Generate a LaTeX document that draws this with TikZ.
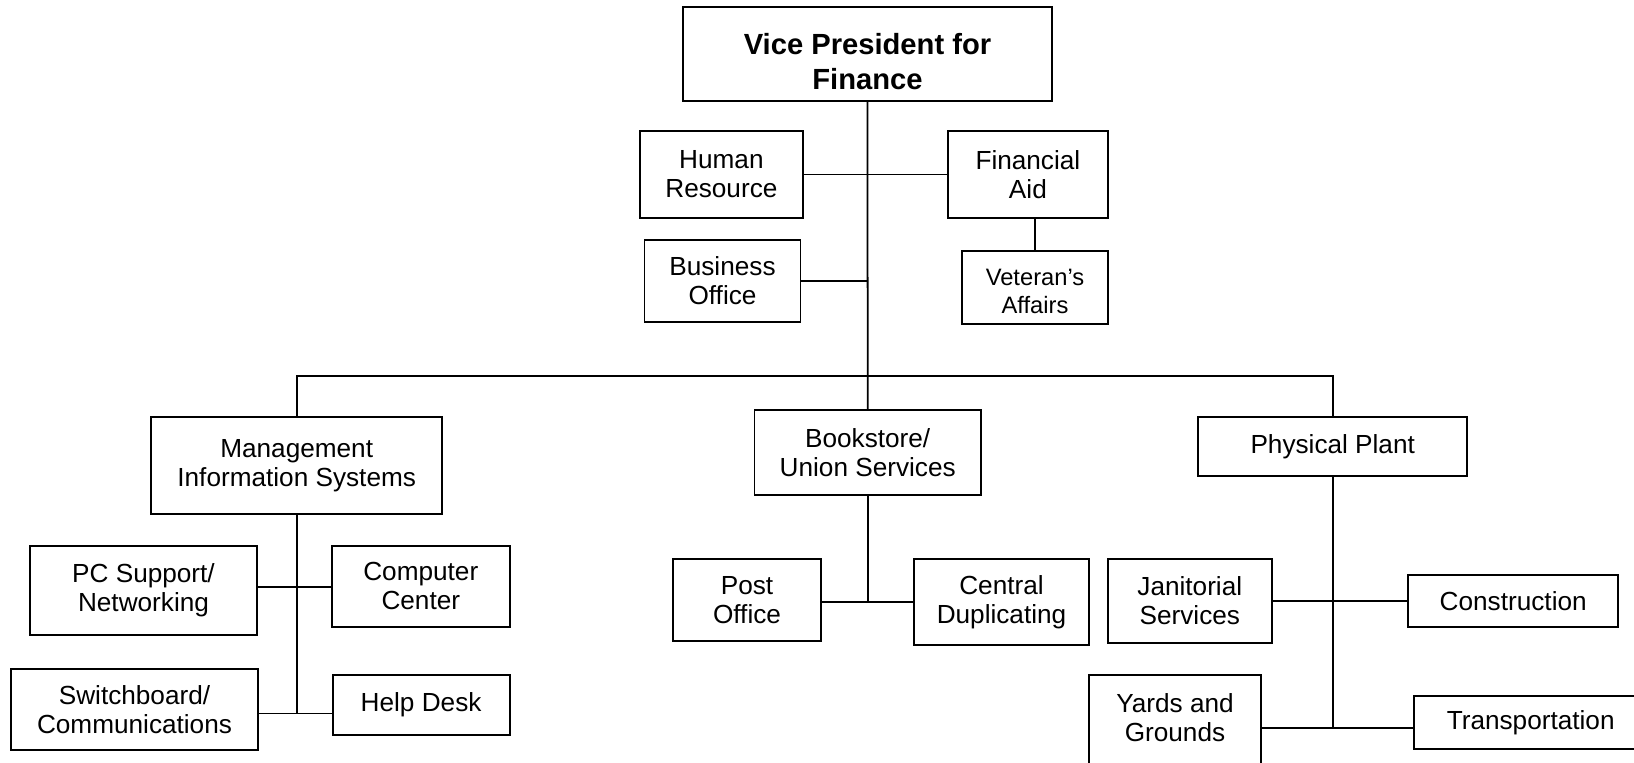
\documentclass[tikz,border=0pt]{standalone}
\usepackage{fontspec}
\setmainfont{Liberation Sans}
\usepackage{tikz}

\begin{document}
\begin{tikzpicture}[x=0.02cm, y=-0.02cm,
    unit/.style={draw, line width=1.1pt, align=center, inner sep=0pt, outer sep=0pt,
        font=\fontsize{14.9}{16.6}\selectfont},
    head/.style={unit, font=\bfseries\fontsize{16.6}{20}\selectfont},
    small/.style={unit, font=\fontsize{13.5}{16}\selectfont},
    link/.style={line width=1pt}]
    \useasboundingbox (0,0) rectangle (1634,763);
    \clip (0,0) rectangle (1634,763);

    \node[head, minimum width=7.37cm, minimum height=1.87cm, text height=40.5pt] (vp) at (867.5,54.2) {Vice President for\\Finance};
    \node[unit, minimum width=3.27cm, minimum height=1.73cm] (hr) at (721.4,174.5) {Human\\Resource};
    \node[unit, minimum width=3.20cm, minimum height=1.73cm] (fa) at (1027.9,174.5) {Financial\\Aid};
    \node[small, minimum width=2.93cm, minimum height=1.47cm, text height=29.8pt] (va) at (1035,287.4) {Veteran’s\\Affairs};
    \node[unit, minimum width=3.12cm, minimum height=1.65cm] (bo) at (722.5,280.9) {Business\\Office};

    \node[unit, minimum width=5.83cm, minimum height=1.95cm] (mis) at (296.7,465.4) {Management\\Information Systems};
    \node[unit, minimum width=4.53cm, minimum height=1.71cm] (bk) at (867.7,452.7) {Bookstore/\\Union Services};
    \node[unit, minimum width=5.39cm, minimum height=1.19cm] (pp) at (1332.7,446.5) {Physical Plant};

    \node[unit, minimum width=4.54cm, minimum height=1.78cm] (pc) at (143.5,590.5) {PC Support/\\Networking};
    \node[unit, minimum width=3.55cm, minimum height=1.61cm] (cc) at (420.8,586.4) {Computer\\Center};
    \node[unit, minimum width=4.94cm, minimum height=1.61cm] (sw) at (134.5,709.7) {Switchboard/\\Communications};
    \node[unit, minimum width=3.54cm, minimum height=1.19cm] (hd) at (421.1,705) {Help Desk};

    \node[unit, minimum width=2.95cm, minimum height=1.63cm] (po) at (747,600) {Post\\Office};
    \node[unit, minimum width=3.51cm, minimum height=1.72cm] (cd) at (1001.5,602.3) {Central\\Duplicating};

    \node[unit, minimum width=3.29cm, minimum height=1.67cm] (ja) at (1189.8,601) {Janitorial\\Services};
    \node[unit, minimum width=4.21cm, minimum height=1.04cm] (co) at (1513.2,600.7) {Construction};
    \node[unit, anchor=north, minimum width=3.43cm, minimum height=2.2cm] (yg) at (1175,675.3) {};
    \node[font=\fontsize{14.9}{16.6}\selectfont, align=center] (yg-t) at (1175,717.4) {Yards and\\Grounds};
    \node[unit, minimum width=4.66cm, minimum height=1.07cm] (tr) at (1530.7,722.5) {Transportation};

    % top level
    \draw[link] (vp.south) -- (bk.north);
    \draw[link] (hr.east) -- (fa.west);
    \draw[link] (bo.east) -- (bo.east -| vp.south);
    \draw[link] (va.north) -- (va.north |- fa.south);
    \coordinate (bus) at (867.5,376);
    \draw[link] (mis.north) |- (bus) -| (pp.north);

    % MIS
    \coordinate (mis-a) at (296.7,587);
    \coordinate (mis-b) at (296.7,713.5);
    \draw[link] (mis.south) -- (mis-b);
    \draw[link] (pc.east |- mis-a) -- (cc.west |- mis-a);
    \draw[link] (sw.east |- mis-b) -- (hd.west |- mis-b);

    % bookstore
    \coordinate (bk-a) at (867.7,601.7);
    \draw[link] (bk.south) -- (bk-a);
    \draw[link] (po.east |- bk-a) -- (cd.west |- bk-a);

    % physical plant
    \coordinate (pp-a) at (1332.7,600.7);
    \coordinate (pp-b) at (1332.7,728);
    \draw[link] (pp.south) -- (pp-b);
    \draw[link] (ja.east |- pp-a) -- (co.west |- pp-a);
    \draw[link] (yg.east |- pp-b) -- (tr.west |- pp-b);
\end{tikzpicture}
\end{document}
